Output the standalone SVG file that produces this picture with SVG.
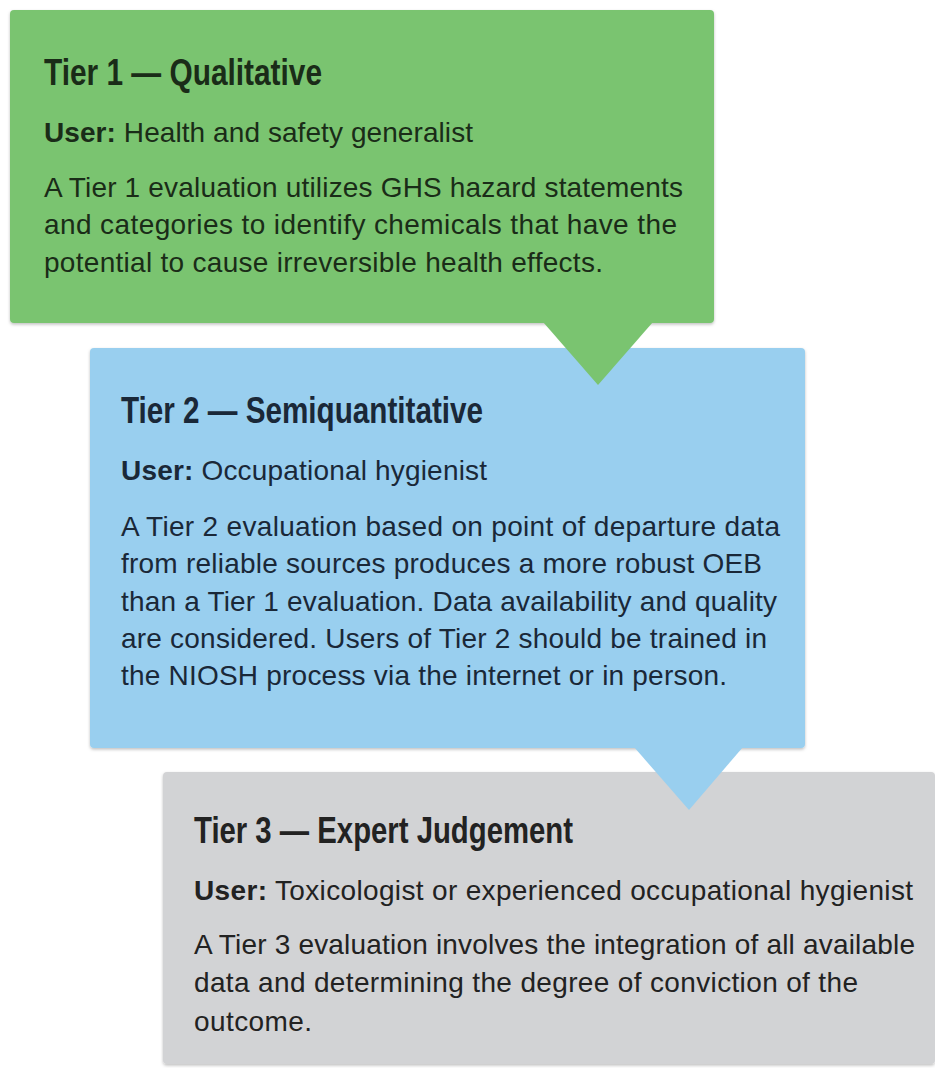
<svg xmlns="http://www.w3.org/2000/svg" width="935" height="1068" viewBox="0 0 935 1068">
  <defs>
    <filter id="soft-shadow" x="-5%" y="-5%" width="110%" height="115%">
      <feDropShadow dx="0" dy="1.5" stdDeviation="1.5" flood-color="#000" flood-opacity="0.25"/>
    </filter>
  </defs>
  <style>
    .title { font-family: "Liberation Sans Narrow", "Liberation Sans", Arial, sans-serif; font-weight: bold; font-size: 37px; }
    .body { font-family: "Liberation Sans", Arial, sans-serif; font-size: 28px; }
    .lbl { font-weight: bold; }
    .t1 { fill: #1a2c18; }
    .t2 { fill: #1a2838; }
    .t3 { fill: #222222; }
    .box { filter: url(#soft-shadow); }
  </style>

  <rect width="935" height="1068" fill="#ffffff"/>

  <!-- Tier 1 -->
  <g id="tier1">
    <rect class="box" x="10" y="10" width="704" height="313" rx="4" fill="#7ac470"/>
    <text class="title t1" x="44" y="85" textLength="278" lengthAdjust="spacingAndGlyphs">Tier 1 — Qualitative</text>
    <text class="body t1" x="44" y="142" textLength="429"><tspan class="lbl">User:</tspan> Health and safety generalist</text>
    <text class="body t1" x="44" y="197" textLength="639">A Tier 1 evaluation utilizes GHS hazard statements</text>
    <text class="body t1" x="44" y="234" textLength="633">and categories to identify chemicals that have the</text>
    <text class="body t1" x="44" y="272" textLength="559">potential to cause irreversible health effects.</text>
  </g>

  <!-- Tier 2 -->
  <g id="tier2">
    <rect class="box" x="90" y="348" width="715" height="400" rx="4" fill="#99cfef"/>
    <text class="title t2" x="121" y="423" textLength="362" lengthAdjust="spacingAndGlyphs">Tier 2 — Semiquantitative</text>
    <text class="body t2" x="121" y="480" textLength="366"><tspan class="lbl">User:</tspan> Occupational hygienist</text>
    <text class="body t2" x="121" y="536" textLength="659">A Tier 2 evaluation based on point of departure data</text>
    <text class="body t2" x="121" y="573" textLength="641">from reliable sources produces a more robust OEB</text>
    <text class="body t2" x="121" y="611" textLength="656">than a Tier 1 evaluation. Data availability and quality</text>
    <text class="body t2" x="121" y="648" textLength="646">are considered. Users of Tier 2 should be trained in</text>
    <text class="body t2" x="121" y="685" textLength="606">the NIOSH process via the internet or in person.</text>
  </g>

  <!-- Tier 3 -->
  <g id="tier3">
    <rect class="box" x="163" y="772" width="772" height="292" rx="4" fill="#d2d3d5"/>
    <text class="title t3" x="194" y="843" textLength="379" lengthAdjust="spacingAndGlyphs">Tier 3 — Expert Judgement</text>
    <text class="body t3" x="194" y="900" textLength="719"><tspan class="lbl">User:</tspan> Toxicologist or experienced occupational hygienist</text>
    <text class="body t3" x="194" y="954" textLength="721">A Tier 3 evaluation involves the integration of all available</text>
    <text class="body t3" x="194" y="992" textLength="664">data and determining the degree of conviction of the</text>
    <text class="body t3" x="194" y="1031" textLength="118">outcome.</text>
  </g>

  <!-- Pointers leading from each tier into the next -->
  <g id="connectors">
    <polygon points="543,322 653,322 598,385" fill="#7ac470"/>
    <polygon points="634,747 743,747 689,810" fill="#99cfef"/>
  </g>
</svg>
